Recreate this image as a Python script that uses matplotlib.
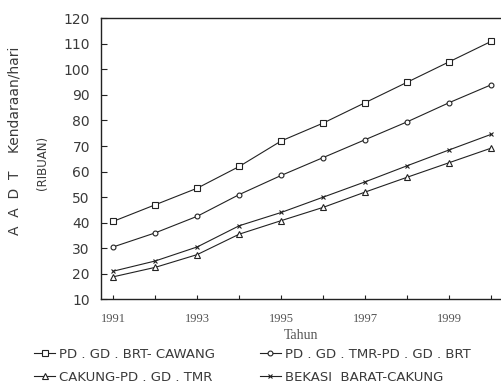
import numpy as np
import matplotlib
matplotlib.use("Agg")
import matplotlib.pyplot as plt
from matplotlib.ticker import MultipleLocator

# Data (thousands of vehicles per day)
years = [1991, 1992, 1993, 1994, 1995, 1996, 1997, 1998, 1999, 2000]
brt_cawang = [40.5, 47.0, 53.5, 62.0, 72.0, 79.0, 87.0, 95.0, 103.0, 111.0]
tmr_brt = [30.5, 36.0, 42.5, 51.0, 58.5, 65.5, 72.5, 79.5, 87.0, 94.0]
cakung_tmr = [18.8, 22.5, 27.5, 35.5, 40.8, 46.0, 52.0, 57.8, 63.5, 69.2]
bekasi_cakung = [21.0, 25.0, 30.5, 38.8, 44.0, 50.0, 56.0, 62.3, 68.5, 74.6]

labels = ["PD . GD . BRT- CAWANG", "PD . GD . TMR-PD . GD . BRT",
          "CAKUNG-PD . GD . TMR", "BEKASI  BARAT-CAKUNG"]
xticks = [1991, 1993, 1995, 1997, 1999]
yticks = list(range(10, 121, 10))

ink = "#222222"
txt = "#3a3a3a"

fig = plt.figure(figsize=(5.01, 3.86), dpi=100)
ax = fig.add_axes([101 / 501, 1 - 299.3 / 386, 1 - 101 / 501, (299.3 - 18.3) / 386])

style = dict(color=ink, lw=0.8, markersize=4.5, markerfacecolor="white",
             markeredgecolor=ink, markeredgewidth=0.8)
l1, = ax.plot(years, brt_cawang, marker="s", **style)
l2, = ax.plot(years, tmr_brt, marker="o", **dict(style, markersize=3.5))
l3, = ax.plot(years, cakung_tmr, marker="^", **style)
l4, = ax.plot(years, bekasi_cakung, marker="x", **dict(style, markersize=3.5))

ax.set_xlim(1990.71, 2000.23)
ax.set_ylim(10, 120)
ax.set_xticks(xticks)
ax.xaxis.set_minor_locator(MultipleLocator(1))
ax.set_yticks(yticks)
ax.spines["right"].set_visible(False)
for s in ["left", "top", "bottom"]:
    ax.spines[s].set_linewidth(1.0)
    ax.spines[s].set_color(ink)

ax.tick_params(axis="y", direction="in", length=4, width=0.8, color=ink,
               labelsize=10, labelcolor=txt, pad=8)
ax.tick_params(axis="x", which="both", direction="in", length=3, width=0.8,
               color=ink, pad=10)
for lab in ax.get_xticklabels():
    lab.set_fontfamily("Liberation Serif")
    lab.set_fontsize(9)
    lab.set_color("#555555")

ax.set_xlabel("Tahun", fontfamily="Liberation Serif", fontsize=10,
              color="#555555", labelpad=3)

fig.text(15 / 501, 1 - 141 / 386, "A  A  D  T    Kendaraan/hari", rotation=90,
         ha="center", va="center", fontsize=10, color=txt)
fig.text(42 / 501, 1 - 163 / 386, "(RIBUAN)", rotation=90,
         ha="center", va="center", fontsize=8.5, color=txt)

leg = fig.legend([l1, l3, l2, l4], [labels[0], labels[2], labels[1], labels[3]],
                 ncol=2, loc="upper left", bbox_to_anchor=(34 / 501, 1 - 348 / 386),
                 frameon=False, fontsize=9.5, handlelength=1.6, handletextpad=0.3,
                 columnspacing=3.4, labelspacing=0.75, borderpad=0,
                 borderaxespad=0)
for t in leg.get_texts():
    t.set_color(txt)

fig.savefig("out.png", dpi=100, facecolor="white")
